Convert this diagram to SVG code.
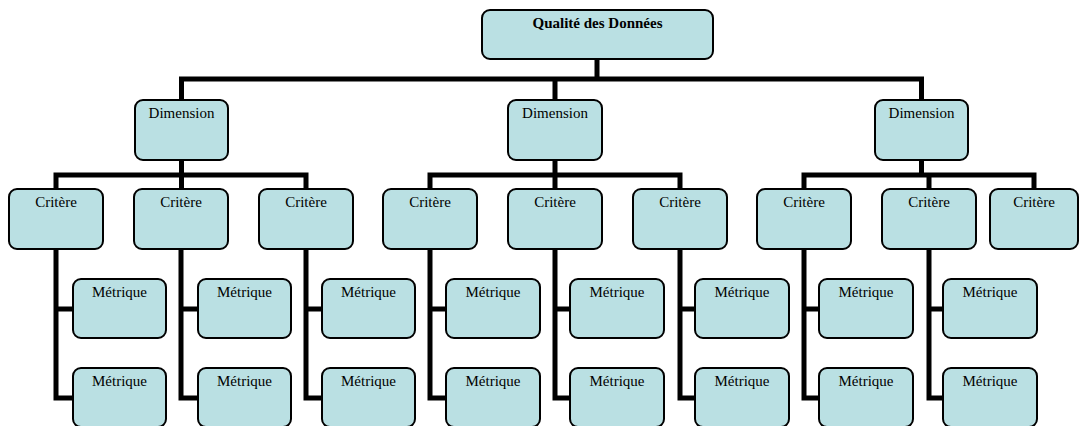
<svg xmlns="http://www.w3.org/2000/svg" width="1080" height="426" viewBox="0 0 1080 426">
  <style>
    .box { fill: #bae0e3; stroke: #000; stroke-width: 2; }
    .lbl { font-family: "Liberation Serif", "Times New Roman", serif; font-size: 15px; fill: #000; text-anchor: middle; }
    .title { font-weight: bold; }
    .conn { fill: none; stroke: #000; stroke-width: 5; stroke-linejoin: miter; stroke-linecap: butt; }
  </style>
  <rect width="1080" height="426" fill="#fff"/>

  <!-- connectors -->
  <g id="connectors">
    <!-- root to dimensions -->
    <path class="conn" d="M597,59 V79"/>
    <path class="conn" d="M181.5,100 V79 H921.5 V100 M555,79 V100"/>
    <!-- dimension 1 to criteria -->
    <path class="conn" d="M181.5,160 V189 M56,189 V175 H306 V189"/>
    <!-- dimension 2 to criteria -->
    <path class="conn" d="M555,160 V189 M430,189 V175 H680 V189"/>
    <!-- dimension 3 to criteria -->
    <path class="conn" d="M921.5,160 V175 M804,189 V175 H1034 V189 M929,175 V189"/>
    <!-- criteria to metrics -->
    <path class="conn" d="M56,249 V398 H74 M56,309 H74"/>
    <path class="conn" d="M181,249 V398 H199 M181,309 H199"/>
    <path class="conn" d="M306,249 V398 H323 M306,309 H323"/>
    <path class="conn" d="M430,249 V398 H447 M430,309 H447"/>
    <path class="conn" d="M555,249 V398 H571 M555,309 H571"/>
    <path class="conn" d="M680,249 V398 H696 M680,309 H696"/>
    <path class="conn" d="M804,249 V398 H820 M804,309 H820"/>
    <path class="conn" d="M929,249 V398 H944 M929,309 H944"/>
  </g>

  <!-- root -->
  <g id="root">
    <rect class="box" x="482" y="10" width="231" height="49" rx="8"/>
    <text class="lbl title" x="597.5" y="28">Qualité des Données</text>
  </g>

  <!-- dimensions -->
  <g id="dim1"><rect class="box" x="135" y="100" width="93" height="60" rx="8"/><text class="lbl" x="181.5" y="118">Dimension</text></g>
  <g id="dim2"><rect class="box" x="508" y="100" width="94" height="60" rx="8"/><text class="lbl" x="555" y="118">Dimension</text></g>
  <g id="dim3"><rect class="box" x="875" y="100" width="93" height="60" rx="8"/><text class="lbl" x="921.5" y="118">Dimension</text></g>

  <!-- criteria -->
  <g id="crit1"><rect class="box" x="9" y="189" width="94" height="60" rx="8"/><text class="lbl" x="56" y="207">Critère</text></g>
  <g id="crit2"><rect class="box" x="134" y="189" width="94" height="60" rx="8"/><text class="lbl" x="181" y="207">Critère</text></g>
  <g id="crit3"><rect class="box" x="259" y="189" width="94" height="60" rx="8"/><text class="lbl" x="306" y="207">Critère</text></g>
  <g id="crit4"><rect class="box" x="383" y="189" width="94" height="60" rx="8"/><text class="lbl" x="430" y="207">Critère</text></g>
  <g id="crit5"><rect class="box" x="508" y="189" width="94" height="60" rx="8"/><text class="lbl" x="555" y="207">Critère</text></g>
  <g id="crit6"><rect class="box" x="633" y="189" width="94" height="60" rx="8"/><text class="lbl" x="680" y="207">Critère</text></g>
  <g id="crit7"><rect class="box" x="757" y="189" width="94" height="60" rx="8"/><text class="lbl" x="804" y="207">Critère</text></g>
  <g id="crit8"><rect class="box" x="882" y="189" width="94" height="60" rx="8"/><text class="lbl" x="929" y="207">Critère</text></g>
  <g id="crit9"><rect class="box" x="990" y="189" width="88" height="60" rx="8"/><text class="lbl" x="1034" y="207">Critère</text></g>

  <!-- metrics -->
  <g id="met1a"><rect class="box" x="73" y="279" width="93" height="59" rx="8"/><text class="lbl" x="119.5" y="297">Métrique</text></g>
  <g id="met1b"><rect class="box" x="73" y="368" width="93" height="59" rx="8"/><text class="lbl" x="119.5" y="386">Métrique</text></g>
  <g id="met2a"><rect class="box" x="198" y="279" width="93" height="59" rx="8"/><text class="lbl" x="244.5" y="297">Métrique</text></g>
  <g id="met2b"><rect class="box" x="198" y="368" width="93" height="59" rx="8"/><text class="lbl" x="244.5" y="386">Métrique</text></g>
  <g id="met3a"><rect class="box" x="322" y="279" width="93" height="59" rx="8"/><text class="lbl" x="368.5" y="297">Métrique</text></g>
  <g id="met3b"><rect class="box" x="322" y="368" width="93" height="59" rx="8"/><text class="lbl" x="368.5" y="386">Métrique</text></g>
  <g id="met4a"><rect class="box" x="446" y="279" width="94" height="59" rx="8"/><text class="lbl" x="493" y="297">Métrique</text></g>
  <g id="met4b"><rect class="box" x="446" y="368" width="94" height="59" rx="8"/><text class="lbl" x="493" y="386">Métrique</text></g>
  <g id="met5a"><rect class="box" x="570" y="279" width="94" height="59" rx="8"/><text class="lbl" x="617" y="297">Métrique</text></g>
  <g id="met5b"><rect class="box" x="570" y="368" width="94" height="59" rx="8"/><text class="lbl" x="617" y="386">Métrique</text></g>
  <g id="met6a"><rect class="box" x="695" y="279" width="94" height="59" rx="8"/><text class="lbl" x="742" y="297">Métrique</text></g>
  <g id="met6b"><rect class="box" x="695" y="368" width="94" height="59" rx="8"/><text class="lbl" x="742" y="386">Métrique</text></g>
  <g id="met7a"><rect class="box" x="819" y="279" width="94" height="59" rx="8"/><text class="lbl" x="866" y="297">Métrique</text></g>
  <g id="met7b"><rect class="box" x="819" y="368" width="94" height="59" rx="8"/><text class="lbl" x="866" y="386">Métrique</text></g>
  <g id="met8a"><rect class="box" x="943" y="279" width="94" height="59" rx="8"/><text class="lbl" x="990" y="297">Métrique</text></g>
  <g id="met8b"><rect class="box" x="943" y="368" width="94" height="59" rx="8"/><text class="lbl" x="990" y="386">Métrique</text></g>
</svg>
